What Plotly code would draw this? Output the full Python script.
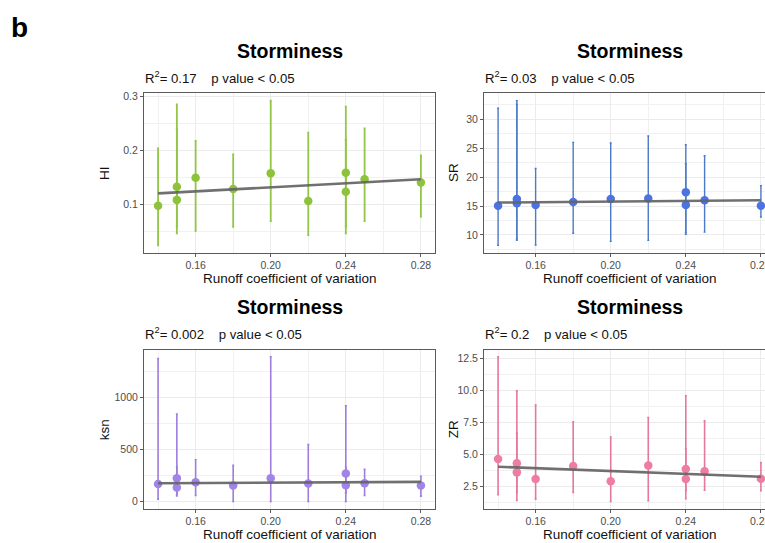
import plotly.graph_objects as go

W, H = 765, 543

# Runoff coefficient of variation (shared x for all four panels)
runoff_cv = [0.14, 0.15, 0.15, 0.16, 0.18, 0.20, 0.22, 0.24, 0.24, 0.25, 0.28]

# HI: mean, lower, upper
hi_mean = [0.098, 0.133, 0.109, 0.150, 0.129, 0.158, 0.107, 0.159, 0.124, 0.147, 0.141]
hi_low = [0.025, 0.047, 0.060, 0.052, 0.059, 0.070, 0.044, 0.047, 0.060, 0.070, 0.078]
hi_high = [0.204, 0.285, 0.240, 0.218, 0.193, 0.292, 0.233, 0.281, 0.220, 0.241, 0.191]

# SR
sr_mean = [15.06, 16.2, 15.5, 15.2, 15.7, 16.2, 16.3, 17.4, 15.2, 16.0, 15.06]
sr_low = [8.2, 9.06, 9.3, 8.26, 10.3, 8.9, 9.06, 10.1, 10.4, 10.5, 13.1]
sr_high = [31.9, 33.2, 32.6, 21.5, 26.0, 25.9, 27.1, 25.6, 22.3, 23.7, 18.5]

# ksn
ksn_mean = [169, 223, 134, 185, 153, 223, 172, 268, 156, 175, 153]
ksn_low = [22, 54, 70, 57, 0, 0, 0, 0, 83, 57, 51]
ksn_high = [1376, 841, 330, 401, 347, 1392, 548, 920, 331, 309, 242]

# ZR
zr_mean = [4.66, 4.33, 3.61, 3.09, 4.10, 2.91, 4.15, 3.87, 3.09, 3.69, 3.12]
zr_low = [1.86, 1.42, 2.04, 1.52, 2.04, 1.34, 1.39, 1.55, 2.20, 2.22, 2.17]
zr_high = [12.63, 9.97, 6.67, 8.86, 7.55, 6.37, 7.89, 9.59, 5.46, 7.63, 4.38]

# Linear fits (end points)
fit_x = [0.14, 0.28]
hi_fit = [0.121, 0.147]
sr_fit = [15.6, 16.0]
ksn_fit = [175, 188]
zr_fit = [4.05, 3.27]

x_tickvals = [0.16, 0.20, 0.24, 0.28]

r2_labels = ["0.17", "0.03", "0.002", "0.2"]
y_titles = ["HI", "SR", "ksn", "ZR"]

point_colors = ["#8DC33B", "#4B74E2", "#A283E8", "#EE7CA3"]
bar_colors = ["#93C546", "#4C7BC6", "#9E7DDB", "#E5789F"]
bar_widths = [1.8, 1.4, 1.6, 1.6]

panels = [
    (hi_mean, hi_low, hi_high, hi_fit),
    (sr_mean, sr_low, sr_high, sr_fit),
    (ksn_mean, ksn_low, ksn_high, ksn_fit),
    (zr_mean, zr_low, zr_high, zr_fit),
]

# pixel geometry of panels
LEFT_X = (144, 435)
RIGHT_X = (484, 765)
TOP_Y = (91, 251)
BOT_Y = (348.5, 508.5)
X_RANGE = [0.1325, 0.2875]
px_per_unit = (LEFT_X[1] - LEFT_X[0]) / (X_RANGE[1] - X_RANGE[0])
X_RANGE_RIGHT = [X_RANGE[0], X_RANGE[0] + (RIGHT_X[1] - RIGHT_X[0]) / px_per_unit]

geom = [
    (LEFT_X, TOP_Y, X_RANGE),
    (RIGHT_X, TOP_Y, X_RANGE_RIGHT),
    (LEFT_X, BOT_Y, X_RANGE),
    (RIGHT_X, BOT_Y, X_RANGE_RIGHT),
]

y_ticks = [
    dict(tick0=0.1, dtick=0.1, tickformat=".1f"),
    dict(tick0=10, dtick=5, tickformat="d"),
    dict(tick0=0, dtick=500, tickformat="d"),
    dict(tick0=2.5, dtick=2.5, tickformat=".1f"),
]


def px(x):
    return x / W


def py(y):
    return 1 - y / H


fig = go.Figure()
FONT = "Liberation Sans, Arial, sans-serif"
GRID = "#EBEBEB"
BORDER = "#5a5a5a"
TICK_FONT = dict(family=FONT, size=10.5, color="#4D4D4D")

annotations = []
for i, ((mean, low, high, fit), (xd, yd, xr)) in enumerate(zip(panels, geom)):
    n = i + 1
    xa = "x" if n == 1 else f"x{n}"
    ya = "y" if n == 1 else f"y{n}"
    err_plus = [h - m for h, m in zip(high, mean)]
    err_minus = [m - l for m, l in zip(mean, low)]
    # error bars
    fig.add_trace(go.Scatter(
        x=runoff_cv, y=mean, mode="markers", xaxis=xa, yaxis=ya,
        marker=dict(size=1, color="rgba(0,0,0,0)"),
        error_y=dict(type="data", symmetric=False, array=err_plus, arrayminus=err_minus,
                     color=bar_colors[i], thickness=bar_widths[i], width=1),
        showlegend=False, hoverinfo="skip"))
    # points
    fig.add_trace(go.Scatter(
        x=runoff_cv, y=mean, mode="markers", xaxis=xa, yaxis=ya,
        marker=dict(size=8.5, color=point_colors[i]),
        showlegend=False))
    # fitted line
    fig.add_trace(go.Scatter(
        x=fit_x, y=fit, mode="lines", xaxis=xa, yaxis=ya,
        line=dict(color="rgba(100,100,100,0.92)", width=2.6),
        showlegend=False, hoverinfo="skip"))

    lo = min(low)
    hi = max(high)
    pad = (hi - lo) * 0.05
    yr = [lo - pad, hi + pad]

    is_right = n in (2, 4)
    fig.update_layout(**{
        ("xaxis" if n == 1 else f"xaxis{n}"): dict(
            domain=[px(xd[0]), px(xd[1])], range=xr, anchor=ya,
            tickvals=x_tickvals, tickformat=".2f",
            showgrid=True, gridcolor=GRID, gridwidth=1,
            minor=dict(tick0=0.16, dtick=0.02, showgrid=True, gridcolor="#F1F1F1", gridwidth=0.7),
            showline=True, linecolor=BORDER, linewidth=1, mirror=True,
            ticks="outside", ticklen=3, tickcolor=BORDER,
            tickfont=TICK_FONT,
            zeroline=False, fixedrange=True),
        ("yaxis" if n == 1 else f"yaxis{n}"): dict(
            domain=[py(yd[1]), py(yd[0])], range=yr, anchor=xa,
            tick0=y_ticks[i]["tick0"], dtick=y_ticks[i]["dtick"],
            tickformat=y_ticks[i]["tickformat"],
            showgrid=True, gridcolor=GRID, gridwidth=1,
            minor=dict(tick0=y_ticks[i]["tick0"], dtick=y_ticks[i]["dtick"] / 2,
                       showgrid=True, gridcolor="#F1F1F1", gridwidth=0.7),
            showline=True, linecolor=BORDER, linewidth=1, mirror=not is_right,
            ticks="outside", ticklen=3, tickcolor=BORDER,
            tickfont=TICK_FONT,
            zeroline=False, fixedrange=True),
    })

    if is_right:
        cx = xd[0] + (X_RANGE[1] - X_RANGE[0]) * px_per_unit / 2
        # last x tick label sits at the page edge; place it explicitly so it is cut by the edge
        last_tick = x_tickvals[-1]
        annotations.append(dict(
            text=f"{last_tick:.2f}", x=last_tick, y=py(yd[1] + 4.5),
            xref=xa, yref="paper", xanchor="center", yanchor="top",
            showarrow=False, font=TICK_FONT))
    else:
        cx = (xd[0] + xd[1]) / 2
    title_y = yd[0] - 43
    sub_y = yd[0] - 16.5
    annotations += [
        dict(text="<b>Storminess</b>", x=px(cx), y=py(title_y), xref="paper", yref="paper",
             xanchor="center", yanchor="middle", showarrow=False,
             font=dict(family=FONT, size=19.5, color="#000000")),
        dict(text=f"R<sup>2</sup>= {r2_labels[i]}&nbsp;&nbsp;&nbsp; p value &lt; 0.05",
             x=px(xd[0] - 1), y=py(sub_y), xref="paper", yref="paper",
             xanchor="left", yanchor="middle", showarrow=False,
             font=dict(family=FONT, size=13.2, color="#111111")),
        dict(text=y_titles[i], x=px(xd[0] - 40 if not is_right else xd[0] - 31),
             y=py((yd[0] + yd[1]) / 2), xref="paper", yref="paper",
             xanchor="center", yanchor="middle", textangle=-90, showarrow=False,
             font=dict(family=FONT, size=13.5, color="#111111")),
        dict(text="Runoff coefficient of variation", x=px(cx), y=py(yd[1] + 26),
             xref="paper", yref="paper", xanchor="center", yanchor="middle",
             showarrow=False, font=dict(family=FONT, size=13.5, color="#111111")),
    ]

annotations.append(dict(text="<b>b</b>", x=px(9), y=py(25), xref="paper", yref="paper",
                        xanchor="left", yanchor="middle", showarrow=False,
                        font=dict(family=FONT, size=28, color="#000000")))

fig.update_layout(
    width=W, height=H, margin=dict(l=0, r=0, t=0, b=0),
    paper_bgcolor="white", plot_bgcolor="white",
    annotations=annotations, showlegend=False,
    font=dict(family=FONT),
)

fig.write_html("out.html")
